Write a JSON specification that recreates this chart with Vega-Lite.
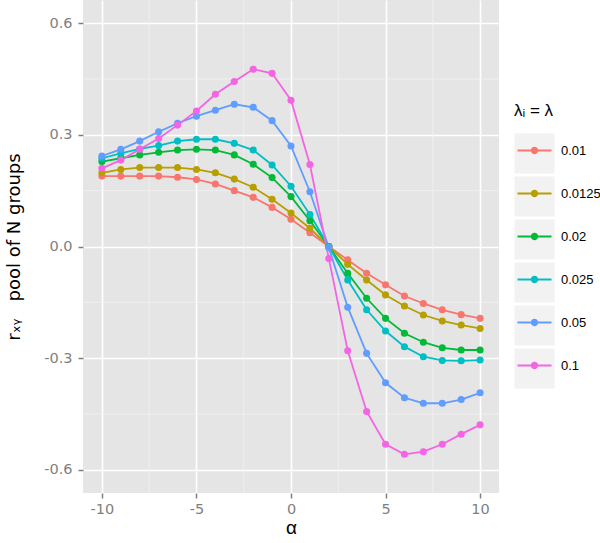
{
  "$schema": "https://vega.github.io/schema/vega-lite/v6.json",
  "autosize": "none",
  "width": 416,
  "height": 493,
  "padding": {"left": 83, "top": 0, "right": 101, "bottom": 50},
  "background": "white",
  "view": {"fill": "#E5E5E5", "stroke": null},
  "config": {
    "view": {"fill": "#E5E5E5", "stroke": null},
    "font": "Liberation Sans",
    "axis": {
      "domain": false,
      "gridColor": "white",
      "gridWidth": 1.6,
      "tickColor": "#7F7F7F",
      "tickSize": 5,
      "tickWidth": 1.5,
      "labelColor": "#7F7F7F",
      "labelFont": "DejaVu Sans",
      "labelFontSize": 14.5,
      "titleFont": "Liberation Sans",
      "titleFontWeight": "normal",
      "titleColor": "black"
    }
  },
  "layer": [
    {
      "data": {"values": [{"v": -7.5}, {"v": -2.5}, {"v": 2.5}, {"v": 7.5}]},
      "mark": {"type": "rule", "color": "#F2F2F2", "strokeWidth": 0.8},
      "encoding": {"x": {"field": "v", "type": "quantitative"}}
    },
    {
      "data": {"values": [{"w": -0.45}, {"w": -0.15}, {"w": 0.15}, {"w": 0.45}]},
      "mark": {"type": "rule", "color": "#F2F2F2", "strokeWidth": 0.8},
      "encoding": {"y": {"field": "w", "type": "quantitative"}}
    },
    {
      "data": {"values": []},
      "mark": {"type": "point", "filled": true, "shape": "square"},
      "encoding": {
        "fill": {
          "field": "k",
          "type": "nominal",
          "scale": {"domain": ["a", "b", "c", "d", "e", "f"], "range": ["#F2F2F2", "#F2F2F2", "#F2F2F2", "#F2F2F2", "#F2F2F2", "#F2F2F2"]},
          "legend": {
            "orient": "none",
            "legendX": 431.5,
            "legendY": 133.5,
            "zindex": 0,
            "title": null,
            "symbolType": "square",
            "symbolSize": 1600,
            "symbolStrokeWidth": 0,
            "symbolOpacity": 1,
            "labelExpr": "''",
            "labelFontSize": 13,
            "labelOffset": 6,
            "rowPadding": 3
          }
        }
      }
    },
    {
      "data": {"name": "main"},
      "mark": {"type": "line", "strokeWidth": 1.8},
      "encoding": {
        "x": {"field": "a", "type": "quantitative", "scale": {"domain": [-11, 11], "nice": false, "zero": false},
              "axis": {"values": [-10, -5, 0, 5, 10], "labelExpr": "replace(datum.label, '−', '-')", "title": "α", "titleFontSize": 19, "titlePadding": 3, "labelPadding": 4, "grid": true}},
        "y": {"field": "r", "type": "quantitative", "scale": {"domain": [-0.662, 0.662], "nice": false, "zero": false},
              "axis": {"values": [-0.6, -0.3, 0, 0.3, 0.6], "format": ".1f", "labelExpr": "replace(datum.label, '−', '-')", "title": "rₓᵧ\u00a0\u00a0\u00a0pool of N groups", "titleFont": "DejaVu Sans", "titleFontSize": 18, "titlePadding": 20, "labelPadding": 6, "grid": true}},
        "color": {
          "field": "lam", "type": "nominal",
          "scale": {"domain": ["0.01", "0.0125", "0.02", "0.025", "0.05", "0.1"], "range": ["#F8766D", "#B79F00", "#00BA38", "#00BFC4", "#619CFF", "#F564E3"]},
          "legend": {
            "orient": "none",
            "legendX": 431,
            "legendY": 103,
            "zindex": 1,
            "title": "λᵢ = λ",
            "titleColor": "black",
            "titleFontSize": 17,
            "titleFontWeight": "normal",
            "titleFont": "Liberation Sans",
            "titlePadding": 10,
            "symbolType": "M0,-1L0,-1M0,1L0,1M-1,0L-1,0M1,0L1,0M-0.829,-0.044L0.829,-0.044L0.829,0.044L-0.829,0.044Z M0.18,0 A0.18,0.18 0 1,1 -0.18,0 A0.18,0.18 0 1,1 0.18,0 Z",
            "symbolSize": 1681,
            "symbolStrokeWidth": 0,
            "symbolOpacity": 1,
            "labelColor": "black",
            "labelFontSize": 13,
            "labelFont": "Liberation Sans",
            "labelOffset": 6,
            "rowPadding": 2,
            "encode": {"symbols": {"update": {"fill": {"scale": "color", "field": "value"}, "stroke": {"scale": "color", "field": "value"}, "strokeWidth": {"value": 0}}}}
          }
        }
      }
    },
    {
      "data": {"name": "main"},
      "mark": {"type": "point", "filled": true, "size": 50, "opacity": 1},
      "encoding": {
        "x": {"field": "a", "type": "quantitative"},
        "y": {"field": "r", "type": "quantitative"},
        "color": {"field": "lam", "type": "nominal"}
      }
    }
  ],
  "datasets": {
    "main": [
      {"lam": "0.01", "a": -10, "r": 0.189}, {"lam": "0.01", "a": -9, "r": 0.189}, {"lam": "0.01", "a": -8, "r": 0.189}, {"lam": "0.01", "a": -7, "r": 0.189}, {"lam": "0.01", "a": -6, "r": 0.186}, {"lam": "0.01", "a": -5, "r": 0.180}, {"lam": "0.01", "a": -4, "r": 0.168}, {"lam": "0.01", "a": -3, "r": 0.150}, {"lam": "0.01", "a": -2, "r": 0.132}, {"lam": "0.01", "a": -1, "r": 0.105}, {"lam": "0.01", "a": 0, "r": 0.073}, {"lam": "0.01", "a": 1, "r": 0.037}, {"lam": "0.01", "a": 2, "r": 0.0}, {"lam": "0.01", "a": 3, "r": -0.036}, {"lam": "0.01", "a": 4, "r": -0.072}, {"lam": "0.01", "a": 5, "r": -0.103}, {"lam": "0.01", "a": 6, "r": -0.133}, {"lam": "0.01", "a": 7, "r": -0.153}, {"lam": "0.01", "a": 8, "r": -0.170}, {"lam": "0.01", "a": 9, "r": -0.183}, {"lam": "0.01", "a": 10, "r": -0.193},
      {"lam": "0.0125", "a": -10, "r": 0.198}, {"lam": "0.0125", "a": -9, "r": 0.207}, {"lam": "0.0125", "a": -8, "r": 0.212}, {"lam": "0.0125", "a": -7, "r": 0.212}, {"lam": "0.0125", "a": -6, "r": 0.212}, {"lam": "0.0125", "a": -5, "r": 0.207}, {"lam": "0.0125", "a": -4, "r": 0.198}, {"lam": "0.0125", "a": -3, "r": 0.181}, {"lam": "0.0125", "a": -2, "r": 0.159}, {"lam": "0.0125", "a": -1, "r": 0.127}, {"lam": "0.0125", "a": 0, "r": 0.090}, {"lam": "0.0125", "a": 1, "r": 0.049}, {"lam": "0.0125", "a": 2, "r": 0.0}, {"lam": "0.0125", "a": 3, "r": -0.048}, {"lam": "0.0125", "a": 4, "r": -0.090}, {"lam": "0.0125", "a": 5, "r": -0.130}, {"lam": "0.0125", "a": 6, "r": -0.160}, {"lam": "0.0125", "a": 7, "r": -0.184}, {"lam": "0.0125", "a": 8, "r": -0.200}, {"lam": "0.0125", "a": 9, "r": -0.211}, {"lam": "0.0125", "a": 10, "r": -0.220},
      {"lam": "0.02", "a": -10, "r": 0.228}, {"lam": "0.02", "a": -9, "r": 0.237}, {"lam": "0.02", "a": -8, "r": 0.246}, {"lam": "0.02", "a": -7, "r": 0.253}, {"lam": "0.02", "a": -6, "r": 0.259}, {"lam": "0.02", "a": -5, "r": 0.261}, {"lam": "0.02", "a": -4, "r": 0.259}, {"lam": "0.02", "a": -3, "r": 0.246}, {"lam": "0.02", "a": -2, "r": 0.221}, {"lam": "0.02", "a": -1, "r": 0.185}, {"lam": "0.02", "a": 0, "r": 0.134}, {"lam": "0.02", "a": 1, "r": 0.069}, {"lam": "0.02", "a": 2, "r": 0.0}, {"lam": "0.02", "a": 3, "r": -0.072}, {"lam": "0.02", "a": 4, "r": -0.139}, {"lam": "0.02", "a": 5, "r": -0.193}, {"lam": "0.02", "a": 6, "r": -0.233}, {"lam": "0.02", "a": 7, "r": -0.257}, {"lam": "0.02", "a": 8, "r": -0.272}, {"lam": "0.02", "a": 9, "r": -0.278}, {"lam": "0.02", "a": 10, "r": -0.278},
      {"lam": "0.025", "a": -10, "r": 0.237}, {"lam": "0.025", "a": -9, "r": 0.250}, {"lam": "0.025", "a": -8, "r": 0.262}, {"lam": "0.025", "a": -7, "r": 0.271}, {"lam": "0.025", "a": -6, "r": 0.283}, {"lam": "0.025", "a": -5, "r": 0.288}, {"lam": "0.025", "a": -4, "r": 0.288}, {"lam": "0.025", "a": -3, "r": 0.277}, {"lam": "0.025", "a": -2, "r": 0.259}, {"lam": "0.025", "a": -1, "r": 0.219}, {"lam": "0.025", "a": 0, "r": 0.162}, {"lam": "0.025", "a": 1, "r": 0.086}, {"lam": "0.025", "a": 2, "r": 0.0}, {"lam": "0.025", "a": 3, "r": -0.090}, {"lam": "0.025", "a": 4, "r": -0.170}, {"lam": "0.025", "a": 5, "r": -0.227}, {"lam": "0.025", "a": 6, "r": -0.269}, {"lam": "0.025", "a": 7, "r": -0.296}, {"lam": "0.025", "a": 8, "r": -0.306}, {"lam": "0.025", "a": 9, "r": -0.307}, {"lam": "0.025", "a": 10, "r": -0.305},
      {"lam": "0.05", "a": -10, "r": 0.243}, {"lam": "0.05", "a": -9, "r": 0.261}, {"lam": "0.05", "a": -8, "r": 0.283}, {"lam": "0.05", "a": -7, "r": 0.308}, {"lam": "0.05", "a": -6, "r": 0.331}, {"lam": "0.05", "a": -5, "r": 0.350}, {"lam": "0.05", "a": -4, "r": 0.366}, {"lam": "0.05", "a": -3, "r": 0.382}, {"lam": "0.05", "a": -2, "r": 0.374}, {"lam": "0.05", "a": -1, "r": 0.338}, {"lam": "0.05", "a": 0, "r": 0.270}, {"lam": "0.05", "a": 1, "r": 0.147}, {"lam": "0.05", "a": 2, "r": -0.003}, {"lam": "0.05", "a": 3, "r": -0.163}, {"lam": "0.05", "a": 4, "r": -0.287}, {"lam": "0.05", "a": 5, "r": -0.366}, {"lam": "0.05", "a": 6, "r": -0.406}, {"lam": "0.05", "a": 7, "r": -0.421}, {"lam": "0.05", "a": 8, "r": -0.421}, {"lam": "0.05", "a": 9, "r": -0.411}, {"lam": "0.05", "a": 10, "r": -0.393},
      {"lam": "0.1", "a": -10, "r": 0.210}, {"lam": "0.1", "a": -9, "r": 0.232}, {"lam": "0.1", "a": -8, "r": 0.261}, {"lam": "0.1", "a": -7, "r": 0.290}, {"lam": "0.1", "a": -6, "r": 0.326}, {"lam": "0.1", "a": -5, "r": 0.364}, {"lam": "0.1", "a": -4, "r": 0.409}, {"lam": "0.1", "a": -3, "r": 0.443}, {"lam": "0.1", "a": -2, "r": 0.476}, {"lam": "0.1", "a": -1, "r": 0.465}, {"lam": "0.1", "a": 0, "r": 0.393}, {"lam": "0.1", "a": 1, "r": 0.220}, {"lam": "0.1", "a": 2, "r": -0.032}, {"lam": "0.1", "a": 3, "r": -0.280}, {"lam": "0.1", "a": 4, "r": -0.443}, {"lam": "0.1", "a": 5, "r": -0.531}, {"lam": "0.1", "a": 6, "r": -0.558}, {"lam": "0.1", "a": 7, "r": -0.551}, {"lam": "0.1", "a": 8, "r": -0.531}, {"lam": "0.1", "a": 9, "r": -0.504}, {"lam": "0.1", "a": 10, "r": -0.479}
    ]
  }
}
